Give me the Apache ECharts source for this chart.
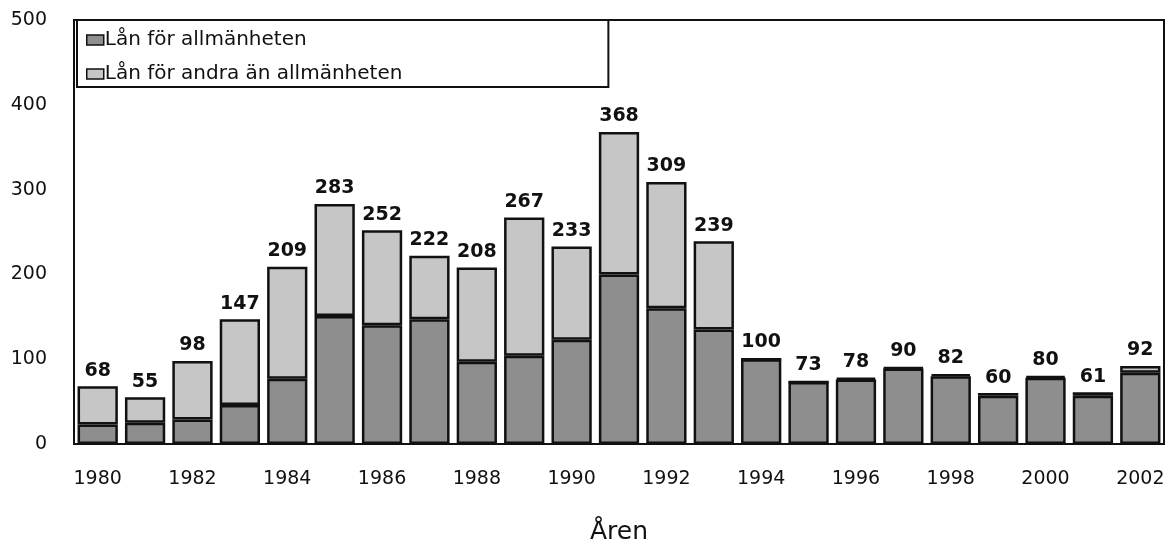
<!DOCTYPE html>
<html>
<head>
<meta charset="utf-8">
<script src="https://cdn.jsdelivr.net/npm/echarts@6/dist/echarts.min.js"></script>
<style>
  html, body { margin: 0; padding: 0; background: #fff; }
  #chart { width: 1166px; height: 542px; }
</style>
</head>
<body>
<div id="chart"></div>
<script>
// Lån per år (antal)
const years = ['1980','1981','1982','1983','1984','1985','1986','1987','1988','1989','1990','1991',
  '1992','1993','1994','1995','1996','1997','1998','1999','2000','2001','2002'];
const totals = [68, 55, 98, 147, 209, 283, 252, 222, 208, 267, 233, 368, 309, 239, 100, 73, 78, 90, 82, 60, 80, 61, 92];
const allmanheten = [23, 25, 29, 46, 77, 151, 140, 147, 97, 104, 123, 200, 160, 135, 100, 73, 76, 89, 80, 57, 78, 57, 84];
// the rest of each bar
const andra = totals.map((t, i) => t - allmanheten[i]);

const yTicks = [0, 100, 200, 300, 400, 500];

const font = '"DejaVu Sans", "Liberation Sans", sans-serif';
const chart = echarts.init(document.getElementById('chart'), null, { renderer: 'canvas' });

chart.setOption({
  backgroundColor: '#fff',
  animation: false,
  textStyle: { fontFamily: font },
  grid: {
    show: true, left: 74, right: 2, top: 20, bottom: 98,
    outerBoundsMode: 'none', containLabel: false,
    borderColor: '#111', borderWidth: 2
  },
  legend: {
    left: 77, top: 20,
    orient: 'vertical',
    itemWidth: 17, itemHeight: 10, itemGap: 14,
    padding: [10, 206, 3, 9],
    borderColor: '#111', borderWidth: 2,
    icon: 'rect',
    itemStyle: { borderColor: '#111', borderWidth: 1.5 },
    textStyle: { fontFamily: font, fontSize: 20, lineHeight: 20, color: '#111', padding: [0, 0, 0, -4] },
    data: ['Lån för allmänheten', 'Lån för andra än allmänheten']
  },
  xAxis: {
    type: 'category',
    data: years,
    name: 'Åren',
    nameLocation: 'middle',
    nameGap: 76,
    nameTextStyle: { fontFamily: font, fontSize: 25, color: '#111' },
    axisLine: { lineStyle: { color: '#111', width: 2 } },
    axisTick: { alignWithLabel: true, length: 10, lineStyle: { color: '#444', width: 1 } },
    axisLabel: {
      interval: 1, color: '#111', fontSize: 19, margin: 26, fontFamily: font
    }
  },
  yAxis: {
    type: 'value',
    min: 0, max: 500, interval: 100,
    axisLine: { show: true, lineStyle: { color: '#111', width: 2 } },
    axisTick: { show: false },
    splitLine: { show: false },
    axisLabel: {
      color: '#111', fontSize: 19, margin: 27, fontFamily: font,
      formatter: v => yTicks.includes(v) ? String(v) : ''
    }
  },
  series: [
    {
      name: 'Lån för allmänheten',
      type: 'bar',
      stack: 'lan',
      barCategoryGap: '15%',
      data: allmanheten,
      itemStyle: { color: '#8e8e8e', borderColor: '#111', borderWidth: 2.5 }
    },
    {
      name: 'Lån för andra än allmänheten',
      type: 'bar',
      stack: 'lan',
      barCategoryGap: '15%',
      data: andra,
      itemStyle: { color: '#c6c6c6', borderColor: '#111', borderWidth: 2.5 },
      label: {
        show: true, position: 'top', distance: 6,
        fontFamily: font, fontSize: 19, fontWeight: 'bold', color: '#111',
        formatter: p => String(totals[p.dataIndex])
      }
    }
  ]
});
</script>
</body>
</html>
